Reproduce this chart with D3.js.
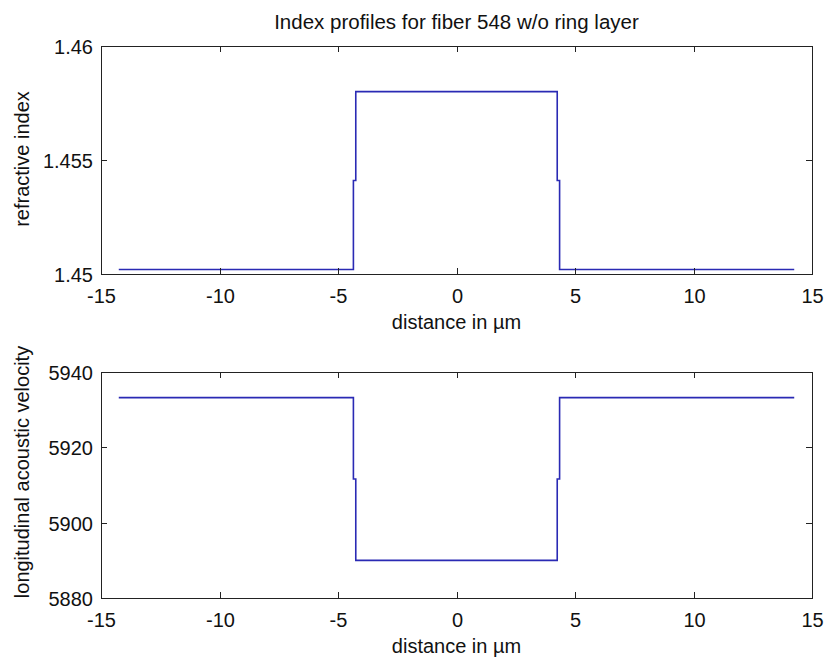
<!DOCTYPE html>
<html><head><meta charset="utf-8">
<script src="https://cdn.jsdelivr.net/npm/d3@7"></script>
<style>body{margin:0;background:#fff}svg{display:block}text{font-family:"Liberation Sans",Arial,sans-serif;fill:#111}</style>
</head><body><svg id="c" width="827" height="662"></svg>
<script>
// Data
const title = "Index profiles for fiber 548 w/o ring layer";
const xLabel = "distance in \u00b5m";
const xTicks = [-15, -10, -5, 0, 5, 10, 15];
// profile x positions (µm)
const xPts = [-14.25, -4.35, -4.35, -4.25, -4.25, 4.25, 4.25, 4.35, 4.35, 14.25];
const indexVals = [1.4502, 1.4502, 1.4541, 1.4541, 1.458, 1.458, 1.4541, 1.4541, 1.4502, 1.4502];
const velocityVals = [5933.2, 5933.2, 5911.6, 5911.6, 5890, 5890, 5911.6, 5911.6, 5933.2, 5933.2];
const indexTicks = [1.45, 1.455, 1.46];
const indexTickLabels = ["1.45", "1.455", "1.46"];
const velTicks = [5880, 5900, 5920, 5940];
const velTickLabels = ["5880", "5900", "5920", "5940"];

const svg = d3.select("#c");
const L = 101, R = 812;
const x = d3.scaleLinear().domain([-15, 15]).range([L, R]);

function panel(top, bottom, yDomain, ticks, tickLabels, vals, ylab, ylabY) {
  const y = d3.scaleLinear().domain(yDomain).range([bottom, top]);
  const g = svg.append("g");
  const fs = "20px";
  const line = d3.line().x((d,i)=>x(xPts[i])).y(d=>y(d));
  g.append("path").datum(vals).attr("d", line).attr("fill","none")
    .attr("stroke","#2a2ab4").attr("stroke-width",1.6);
  g.append("rect").attr("x",L+0.5).attr("y",top+0.5).attr("width",R-L).attr("height",bottom-top)
    .attr("fill","none").attr("stroke","#222").attr("stroke-width",1);
  const tl = 6;
  xTicks.forEach(t=>{
    const xx = Math.round(x(t))+0.5;
    g.append("line").attr("x1",xx).attr("x2",xx).attr("y1",bottom).attr("y2",bottom-tl).attr("stroke","#222");
    g.append("line").attr("x1",xx).attr("x2",xx).attr("y1",top).attr("y2",top+tl).attr("stroke","#222");
    g.append("text").attr("x",xx).attr("y",bottom+29).attr("text-anchor","middle")
      .style("font-size",fs).text(t);
  });
  ticks.forEach((t,i)=>{
    const yy = Math.round(y(t))+0.5;
    g.append("line").attr("x1",L).attr("x2",L+tl).attr("y1",yy).attr("y2",yy).attr("stroke","#222");
    g.append("line").attr("x1",R).attr("x2",R-tl).attr("y1",yy).attr("y2",yy).attr("stroke","#222");
    g.append("text").attr("x",L-8).attr("y",yy+7).attr("text-anchor","end")
      .style("font-size",fs).text(tickLabels[i]);
  });
  g.append("text").attr("x",(L+R)/2).attr("y",bottom+55).attr("text-anchor","middle")
    .style("font-size",fs).text(xLabel);
  g.append("text").attr("transform",`translate(29,${ylabY}) rotate(-90)`)
    .attr("text-anchor","middle").style("font-size",fs).text(ylab);
  return y;
}
panel(46, 274, [1.45, 1.46], indexTicks, indexTickLabels, indexVals, "refractive index", 159);
panel(372, 598, [5880, 5940], velTicks, velTickLabels, velocityVals, "longitudinal acoustic velocity", 472);
svg.append("text").attr("x",(L+R)/2).attr("y",29).attr("text-anchor","middle")
  .style("font-size","20.5px").text(title);
</script></body></html>
